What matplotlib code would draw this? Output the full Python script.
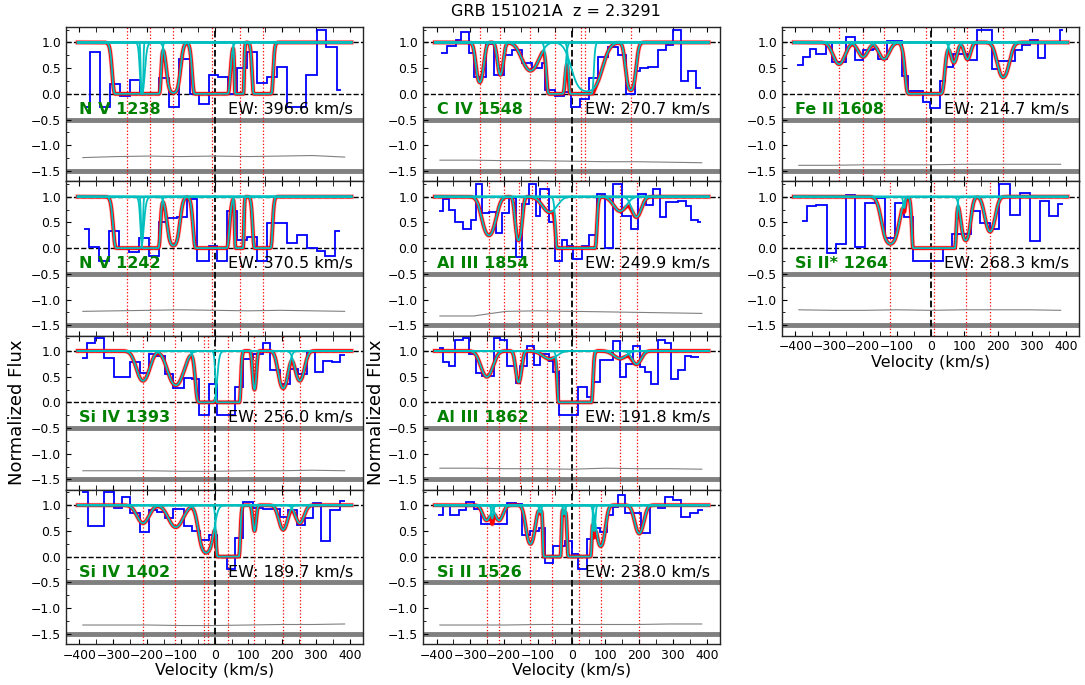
import numpy as np
import matplotlib
matplotlib.use("Agg")
import matplotlib.pyplot as plt
from matplotlib.ticker import MultipleLocator

# ------------------------------------------------------------------ data
title = "GRB 151021A  z = 2.3291"
err_vel = [-390, -290, -195, -100, 0, 100, 195, 290, 385]

# N V 1238
nv1238_label, nv1238_ew = "N V 1238", "EW: 396.6 km/s"
nv1238_edges = [-382, -370, -338, -309, -279, -250, -220, -166, -136, -105, -74, -46, -17, 11, 41,
                65, 95, 125, 154, 184, 213, 270, 302, 331, 361, 375]
nv1238_flux = [-0.25, 0.82, -0.25, 0.2, -0.05, 0.27, 0.0, 0.3, -0.25, 0.67, 0.0, -0.2, 0.37, 0.33, 0.0,
               0.5, 0.82, 0.22, 0.33, 0.52, -0.25, 0.37, 1.25, 0.92, 0.07]
nv1238_cv = [-255, -190, -215, -122, -10, 73, 142]
nv1238_ct = [300, 300, 5, 4, 1300, 300, 300]
nv1238_cb = [20, 13, 3, 16, 21, 6, 13]
nv1238_lines = [-259, -190, -122, -9, 75, 144]
nv1238_err = [-1.24, -1.22, -1.21, -1.22, -1.21, -1.22, -1.21, -1.2, -1.23]

# N V 1242
nv1242_label, nv1242_ew = "N V 1242", "EW: 370.5 km/s"
nv1242_edges = [-387, -373, -343, -313, -284, -254, -225, -195, -166, -141, -112, -82, -53, -18,
                6, 36, 65, 95, 125, 154, 184, 213, 243, 272, 302, 326, 356, 371]
nv1242_flux = [0.38, 0.03, -0.25, 0.33, 0.0, -0.08, 0.2, -0.15, 0.5, 0.58, 0.6, 0.95, -0.25, 0.05,
               -0.25, 0.72, 0.15, 0.22, -0.25, 0.48, 0.48, 0.1, 0.25, 0.0, -0.05, -0.15, 0.33]
nv1242_cv = [-255, -190, -215, -122, -10, 73, 142]
nv1242_ct = [150, 150, 1.9, 3, 650, 150, 150]
nv1242_cb = [20, 13, 3, 16, 21, 6, 13]
nv1242_lines = [-259, -190, -122, -9, 75, 144]
nv1242_err = [-1.23, -1.22, -1.21, -1.2, -1.21, -1.22, -1.21, -1.22, -1.23]

# Si IV 1393
siiv1393_label, siiv1393_ew = "Si IV 1393", "EW: 256.0 km/s"
siiv1393_edges = [-392, -377, -353, -328, -299, -250, -220, -195, -171, -146, -122, -92, -67,
                  -45, -18, 6, 61, 85, 115, 144, 164, 193, 223, 247, 272, 297, 321, 346, 371, 385]
siiv1393_flux = [0.86, 1.15, 1.25, 0.86, 0.5, 0.78, 0.57, 0.95, 0.9, 0.55, 0.28, 0.47, 0.45,
                 -0.25, 0.35, -0.25, 0.3, 0.85, 0.95, 1.15, 0.62, 0.35, 0.65, 0.55, 0.98, 0.6,
                 0.8, 0.78, 0.93]
siiv1393_cv = [-212, -115, -25, 40, 118, 203, 252]
siiv1393_ct = [0.87, 1.1, 30, 6500, 1.4, 1.3, 0.87]
siiv1393_cb = [23, 27, 17, 12.6, 6, 16, 16.5]
siiv1393_lines = [-212, -118, -30, -21, 41, 118, 203, 252]
siiv1393_err = [-1.33, -1.33, -1.33, -1.34, -1.34, -1.33, -1.33, -1.32, -1.33]

# Si IV 1402
siiv1402_label, siiv1402_ew = "Si IV 1402", "EW: 189.7 km/s"
siiv1402_edges = [-392, -376, -326, -299, -274, -250, -220, -195, -171, -146, -122, -92, -67,
                  -43, -18, 6, 36, 61, 85, 115, 144, 193, 218, 243, 267, 292, 316, 341, 371, 385]
siiv1402_flux = [1.25, 0.6, 1.25, 0.95, 1.15, 0.85, 0.47, 0.9, 0.87, 0.75, 0.93, 0.6, 0.5,
                 0.33, 0.43, 0.02, -0.25, 0.37, 1.07, 0.95, 0.93, 0.78, 0.9, 0.62, 0.75, 1.05,
                 0.3, 0.9, 1.08]
siiv1402_cv = [-212, -115, -25, 40, 118, 203, 252]
siiv1402_ct = [0.43, 0.56, 2.6, 3250, 0.7, 0.65, 0.43]
siiv1402_cb = [23, 27, 20, 12.6, 6, 16, 16.5]
siiv1402_lines = [-212, -118, -30, -21, 41, 118, 203, 252]
siiv1402_err = [-1.33, -1.33, -1.33, -1.34, -1.34, -1.33, -1.32, -1.32, -1.31]

# C IV 1548
civ_label, civ_ew = "C IV 1548", "EW: 270.7 km/s"
civ_edges = [-387, -370, -343, -328, -304, -289, -255, -230, -201, -176, -147, -117, -88, -78,
             -49, -24, -1, 25, 50, 79, 108, 138, 162, 187, 202, 226, 256, 280, 300, 324, 344,
             368, 383]
civ_flux = [0.8, 0.93, 1.05, 1.2, 0.8, 0.33, 0.97, 0.37, 0.75, 0.85, 0.6, 0.5, 0.6, 0.07,
            -0.05, 0.03, -0.25, -0.1, 0.3, 0.72, 0.92, 0.75, 0.0, 0.45, 0.5, 0.52, 0.85, 0.95,
            1.25, 0.25, 0.44, 0.12]
civ_cv = [-272, -211, -122, -47, 28, 45, 175]
civ_ct = [1.5, 1.0, 0.8, 50, 1000, 3, 2.66]
civ_cb = [12, 10, 30, 14, 14, 38, 13.6]
civ_lines = [-272, -211, -122, -49, 28, 40, 175]
civ_err = [-1.29, -1.29, -1.3, -1.3, -1.31, -1.32, -1.32, -1.33, -1.34]

# Al III 1854
al1854_label, al1854_ew = "Al III 1854", "EW: 249.9 km/s"
al1854_edges = [-392, -382, -363, -345, -323, -299, -284, -265, -245, -225, -206, -186, -166,
                -147, -127, -107, -93, -68, -49, -29, -14, 5, 30, 50, 74, 99, 123, 148, 177,
                197, 221, 241, 260, 280, 315, 339, 354, 373, 383]
al1854_flux = [0.73, 0.95, 0.75, 0.5, 0.37, 0.55, 1.25, 0.68, 0.7, 0.3, 0.68, 0.98, -0.17,
               0.85, 1.25, 0.62, 1.15, 0.5, -0.25, 0.15, 0.05, -0.22, 0.05, 0.25, 1.05, 0.0,
               1.25, 0.63, 0.37, 1.05, 0.83, 1.15, 0.6, 0.9, 0.92, 0.82, 0.55, 0.5]
al1854_cv = [-245, -157, -65, 13, 143, 192]
al1854_ct = [1.4, 1.9, 0.36, 1e5, 0.33, 0.5]
al1854_cb = [22, 10, 28, 18, 25, 18]
al1854_lines = [-245, -201, -157, -117, -73, -39, 12, 143, 192]
al1854_err = [-1.32, -1.32, -1.23, -1.22, -1.23, -1.24, -1.25, -1.26, -1.27]

# Al III 1862
al1862_label, al1862_ew = "Al III 1862", "EW: 191.8 km/s"
al1862_edges = [-392, -382, -363, -345, -323, -304, -284, -265, -230, -211, -191, -166, -152,
                -132, -112, -93, -68, -54, -39, 20, 45, 64, 84, 123, 143, 162, 182, 202, 216,
                236, 256, 275, 295, 315, 334, 354, 378]
al1862_flux = [1.05, 0.78, 0.7, 1.22, 1.25, 0.95, 0.58, 0.52, 1.25, 1.22, 0.7, 0.37, 0.7, 1.1,
               0.72, 0.95, 0.8, 0.6, -0.25, 0.3, 0.1, 0.4, 0.82, 1.2, 0.5, 0.75, 1.1, 0.68,
               0.6, 0.35, 1.22, 1.15, 0.45, 0.62, 0.9, 0.88]
al1862_cv = [-251, -157, -65, 10, 143, 192]
al1862_ct = [0.7, 0.95, 0.17, 9e4, 0.16, 0.3]
al1862_cb = [22, 10, 28, 15.6, 25, 18]
al1862_lines = [-252, -215, -154, -117, -73, -39, 12, 143, 192]
al1862_err = [-1.28, -1.28, -1.29, -1.29, -1.3, -1.28, -1.29, -1.29, -1.3]

# Si II 1526
siii1526_label, siii1526_ew = "Si II 1526", "EW: 238.0 km/s"
siii1526_edges = [-397, -382, -360, -333, -312, -289, -269, -191, -166, -147, -122, -98, -78,
                  -54, -19, 0, 20, 45, 64, 84, 104, 123, 138, 158, 206, 231, 256, 275, 300,
                  324, 349, 373, 388]
siii1526_flux = [0.8, 1.0, 0.8, 0.9, 1.07, 0.92, 0.63, 1.05, 1.02, 0.43, 0.5, 0.55, -0.13,
                 0.2, 0.3, 0.05, -0.25, 0.35, 0.55, 0.47, 0.8, 0.97, 1.2, 0.85, 0.45, 1.0, 0.95,
                 1.15, 1.1, 0.78, 0.85, 0.9]
siii1526_cv = [-252, -235, -215, -122, -93, -58, -22, 23, 67, 86, 200]
siii1526_ct = [0.35, 0.3, 0.35, 1.4, 0.15, 1e4, 0.2, 1e4, 0.7, 1.6, 0.8]
siii1526_cb = [15, 4, 15, 14.5, 4, 9, 4, 12, 4, 14, 16]
siii1526_lines = [-252, -215, -122, -58, 23, 86, 200]
siii1526_err = [-1.33, -1.33, -1.33, -1.32, -1.32, -1.32, -1.32, -1.31, -1.31]

# Fe II 1608
feii_label, feii_ew = "Fe II 1608", "EW: 214.7 km/s"
feii_edges = [-395, -379, -358, -338, -310, -293, -249, -224, -200, -170, -155, -130, -111, -86,
              -66, -41, -22, -2, 28, 42, 67, 87, 112, 136, 181, 200, 225, 250, 270, 294, 319,
              339, 383, 393]
feii_flux = [0.57, 0.72, 0.87, 0.77, 1.0, 0.62, 1.1, 0.65, 0.85, 0.87, 0.68, 1.02, 1.02, 0.35,
             0.05, 0.05, -0.15, -0.27, 0.25, 0.52, 0.78, 0.77, 0.65, 1.25, 0.48, 0.63, 0.63,
             0.85, 0.95, 1.05, 0.7, 1.0, 1.25]
feii_cv = [-271, -200, -138, -17, 69, 109, 215]
feii_ct = [0.55, 0.33, 0.39, 355, 0.5, 0.4, 1.14]
feii_cb = [22, 19, 20, 24, 12, 12, 20]
feii_lines = [-271, -200, -138, -14, 69, 109, 215]
feii_err = [-1.39, -1.39, -1.38, -1.38, -1.38, -1.37, -1.37, -1.37, -1.37]

# Si II* 1264
siis_label, siis_ew = "Si II* 1264", "EW: 268.3 km/s"
siis_edges = [-382, -365, -338, -308, -280, -251, -223, -195, -165, -135, -106, -79, -51, 36, 62,
              92, 119, 146, 176, 203, 235, 265, 294, 324, 349, 378, 393]
siis_flux = [0.52, 0.82, 0.84, -0.1, 0.07, 1.03, 0.02, 0.87, 0.97, 0.2, 0.87, 0.6, -0.25, 0.0,
             0.27, 0.27, 0.73, 0.48, 0.38, 1.25, 0.65, 1.07, 0.13, 0.92, 0.62, 0.85]
siis_cv = [-119, -78, 10, 104, 176]
siis_ct = [2.5, 0.25, 1e6, 1.9, 1.14]
siis_cb = [23, 4, 17.7, 14, 17]
siis_lines = [-119, 10, 104, 176]
siis_err = [-1.2, -1.21, -1.21, -1.2, -1.21, -1.2, -1.2, -1.2, -1.21]

# (column, row) of each panel
panels = [
    (0, 0, nv1238_label, nv1238_ew, nv1238_edges, nv1238_flux, nv1238_cv, nv1238_ct, nv1238_cb, nv1238_lines, nv1238_err),
    (0, 1, nv1242_label, nv1242_ew, nv1242_edges, nv1242_flux, nv1242_cv, nv1242_ct, nv1242_cb, nv1242_lines, nv1242_err),
    (0, 2, siiv1393_label, siiv1393_ew, siiv1393_edges, siiv1393_flux, siiv1393_cv, siiv1393_ct, siiv1393_cb, siiv1393_lines, siiv1393_err),
    (0, 3, siiv1402_label, siiv1402_ew, siiv1402_edges, siiv1402_flux, siiv1402_cv, siiv1402_ct, siiv1402_cb, siiv1402_lines, siiv1402_err),
    (1, 0, civ_label, civ_ew, civ_edges, civ_flux, civ_cv, civ_ct, civ_cb, civ_lines, civ_err),
    (1, 1, al1854_label, al1854_ew, al1854_edges, al1854_flux, al1854_cv, al1854_ct, al1854_cb, al1854_lines, al1854_err),
    (1, 2, al1862_label, al1862_ew, al1862_edges, al1862_flux, al1862_cv, al1862_ct, al1862_cb, al1862_lines, al1862_err),
    (1, 3, siii1526_label, siii1526_ew, siii1526_edges, siii1526_flux, siii1526_cv, siii1526_ct, siii1526_cb, siii1526_lines, siii1526_err),
    (2, 0, feii_label, feii_ew, feii_edges, feii_flux, feii_cv, feii_ct, feii_cb, feii_lines, feii_err),
    (2, 1, siis_label, siis_ew, siis_edges, siis_flux, siis_cv, siis_ct, siis_cb, siis_lines, siis_err),
]

# ------------------------------------------------------------------ figure
fig = plt.figure(figsize=(10.85, 6.85), dpi=100)
col_left = [0.0608, 0.3899, 0.7207]
ax_w = 0.2740
top = 0.9606
ax_h = 0.2252
last_row = {0: 3, 1: 3, 2: 1}

vgrid = np.linspace(-405, 405, 1621)

for col, row, label, ew, edges, flux, cv, ct, cb, lines, err in panels:
    ax = fig.add_axes([col_left[col], top - (row + 1) * ax_h, ax_w, ax_h])
    ax.set_xlim(-440, 440)
    ax.set_ylim(-1.7, 1.3)

    ax.axhline(-0.5, color="0.5", lw=3.5, zorder=1)
    ax.axhline(-1.5, color="0.5", lw=3.5, zorder=1)
    ax.axhline(1.0, color="k", ls="--", lw=1.0, zorder=1)
    ax.axhline(0.0, color="k", ls="--", lw=1.0, zorder=1)
    ax.axvline(0.0, color="k", ls="--", lw=1.3, zorder=1)
    for v in lines:
        ax.axvline(v, color="red", ls=":", lw=0.9, zorder=1)

    ax.plot(err_vel, err, color="0.5", lw=0.8, zorder=2)
    ax.stairs(flux, edges, baseline=None, color="blue", lw=1.3, zorder=3)

    taus = [t * np.exp(-((vgrid - v) / b) ** 2) for v, t, b in zip(cv, ct, cb)]
    total = np.exp(-np.sum(taus, axis=0))
    ax.plot(vgrid, total, color="red", lw=3.6, alpha=0.25, zorder=4)
    ax.plot(vgrid, total, color="red", lw=2.6, zorder=5)
    for tau in taus:
        ax.plot(vgrid, np.exp(-tau), color="c", lw=1.3, zorder=6)

    ax.text(-400, -0.3, label, color="green", fontweight="bold", fontsize=11.5,
            va="center", ha="left", zorder=7)
    ax.text(40, -0.3, ew, color="k", fontsize=11.5, va="center", ha="left", zorder=7)

    ax.set_yticks([-1.5, -1.0, -0.5, 0.0, 0.5, 1.0])
    ax.xaxis.set_major_locator(MultipleLocator(100))
    ax.xaxis.set_minor_locator(MultipleLocator(50))
    ax.yaxis.set_minor_locator(MultipleLocator(0.25))
    ax.tick_params(which="both", direction="in", top=True, right=False, labelsize=8.9)
    ax.tick_params(axis="x", which="both", length=3.5)
    ax.tick_params(axis="y", which="major", length=3.5)
    ax.tick_params(axis="y", which="minor", length=2)
    for s in ax.spines.values():
        s.set_linewidth(1.0)
        s.set_color("0.15")

    if row == last_row[col]:
        ax.set_xlabel("Velocity (km/s)", fontsize=11.5, labelpad=1)
    else:
        ax.tick_params(labelbottom=False)
    if row == 2 and col in (0, 1):
        ax.set_ylabel("Normalized Flux", fontsize=13)
        ax.yaxis.set_label_coords(-0.135 if col == 0 else -0.128, 0.5)

fig.text(556 / 1085, 1 - 12 / 685, title, ha="center", va="center", fontsize=11.5)
fig.savefig("out.png", dpi=100)
